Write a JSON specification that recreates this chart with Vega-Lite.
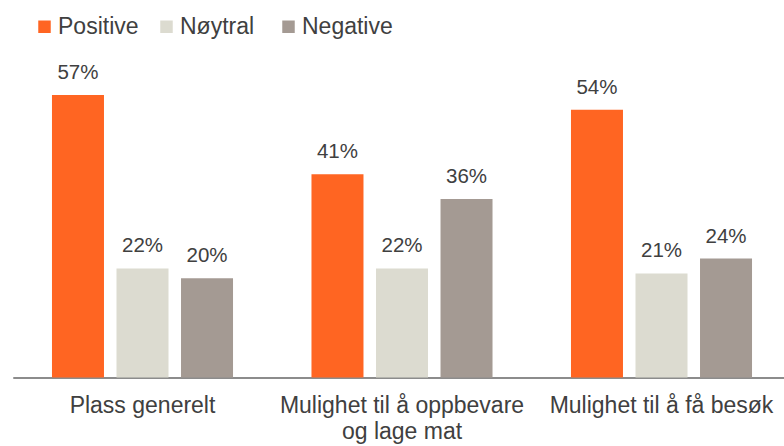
{
  "$schema": "https://vega.github.io/schema/vega-lite/v6.json",
  "autosize": {"type": "none"},
  "width": 771.25,
  "height": 297.5,
  "padding": {"left": 12.75, "top": 80, "right": 0, "bottom": 68.5},
  "background": "white",
  "config": {"view": {"stroke": null}, "font": "Liberation Sans"},
  "data": {
    "values": [
      {"kategori": "Plass generelt", "vurdering": "Positive", "andel": 0.57},
      {"kategori": "Plass generelt", "vurdering": "Nøytral", "andel": 0.22},
      {"kategori": "Plass generelt", "vurdering": "Negative", "andel": 0.20},
      {"kategori": "Mulighet til å oppbevare og lage mat", "vurdering": "Positive", "andel": 0.41},
      {"kategori": "Mulighet til å oppbevare og lage mat", "vurdering": "Nøytral", "andel": 0.22},
      {"kategori": "Mulighet til å oppbevare og lage mat", "vurdering": "Negative", "andel": 0.36},
      {"kategori": "Mulighet til å få besøk", "vurdering": "Positive", "andel": 0.54},
      {"kategori": "Mulighet til å få besøk", "vurdering": "Nøytral", "andel": 0.21},
      {"kategori": "Mulighet til å få besøk", "vurdering": "Negative", "andel": 0.24}
    ]
  },
  "encoding": {
    "x": {
      "field": "kategori",
      "type": "nominal",
      "sort": ["Plass generelt", "Mulighet til å oppbevare og lage mat", "Mulighet til å få besøk"],
      "scale": {"range": [0, 778.5], "paddingInner": 0, "paddingOuter": 0},
      "title": null,
      "axis": {
        "domainColor": "#8c8c8c",
        "domainWidth": 2,
        "ticks": false,
        "grid": false,
        "labelAngle": 0,
        "labelFontSize": 23,
        "labelColor": "#404040",
        "labelBaseline": "alphabetic",
        "labelPadding": 35,
        "labelLineHeight": 26,
        "labelLimit": 400,
        "labelOverlap": false,
        "labelExpr": "datum.value == 'Mulighet til å oppbevare og lage mat' ? ['Mulighet til å oppbevare', 'og lage mat'] : datum.value"
      }
    },
    "xOffset": {
      "field": "vurdering",
      "type": "nominal",
      "sort": ["Positive", "Nøytral", "Negative"],
      "scale": {"paddingInner": 0.194, "paddingOuter": 0.608}
    },
    "y": {
      "field": "andel",
      "type": "quantitative",
      "scale": {"domain": [0, 0.6], "nice": false},
      "axis": null
    }
  },
  "layer": [
    {
      "mark": {"type": "bar"},
      "encoding": {
        "color": {
          "field": "vurdering",
          "type": "nominal",
          "sort": ["Positive", "Nøytral", "Negative"],
          "scale": {
            "domain": ["Positive", "Nøytral", "Negative"],
            "range": ["#ff6522", "#dcdbd0", "#a49a93"]
          },
          "legend": {
            "orient": "none",
            "legendX": 20.25,
            "legendY": -65,
            "direction": "horizontal",
            "title": null,
            "padding": 0,
            "symbolType": "square",
            "symbolSize": 156,
            "symbolStrokeWidth": 0,
            "labelFontSize": 23,
            "labelColor": "#404040",
            "labelOffset": 2,
            "columnPadding": 6,
            "gridAlign": "all"
          }
        }
      }
    },
    {
      "mark": {
        "type": "text",
        "baseline": "alphabetic",
        "dy": -16,
        "fontSize": 20.5,
        "color": "#404040"
      },
      "encoding": {
        "text": {"field": "andel", "type": "quantitative", "format": ".0%"}
      }
    }
  ]
}
